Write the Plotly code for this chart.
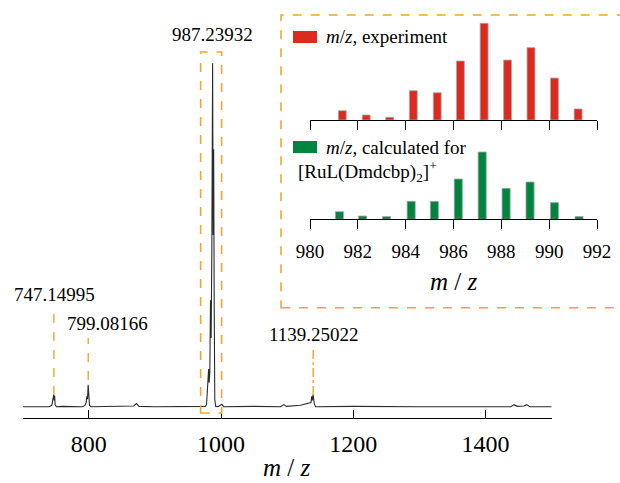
import plotly.graph_objects as go

W, H = 620, 483

# ---------------- data ----------------
spec_mz = [700, 720, 740, 744, 745, 746, 747, 747.6, 748.3, 749, 751, 760, 790, 794, 796, 797, 798, 799, 799.6, 800.3, 801, 803,
           830, 860, 868, 872, 876, 900, 940, 970, 976, 978, 980, 981.2, 982, 983, 984, 985, 986, 987.2, 988, 988.8, 989.6,
           990.5, 992, 996, 1001, 1004, 1050, 1090, 1095, 1099, 1120, 1134, 1136, 1137, 1138, 1139.2, 1140, 1141, 1143,
           1200, 1300, 1400, 1438, 1443, 1448, 1458, 1462, 1467, 1500]
spec_int = [0.0, 0.001, 0.0, 0.004, 0.015, 0.025, 0.035, 0.018, 0.032, 0.006, 0.0, 0.001, 0.0, 0.003, 0.012, 0.03, 0.022, 0.064, 0.04, 0.012, 0.004, 0.0,
            0.001, 0.0, 0.002, 0.009, 0.001, 0.0, 0.001, 0.0, 0.001, 0.006, 0.06, 0.11, 0.07, 0.1, 0.31, 0.2, 0.45, 1.0, 0.5, 0.75, 0.3,
            0.02, 0.0, 0.001, 0.007, 0.0, 0.001, 0.0, 0.006, 0.001, 0.004, 0.01, 0.012, 0.03, 0.018, 0.035, 0.02, 0.008, 0.0,
            0.001, 0.0, 0.001, 0.0, 0.006, 0.001, 0.002, 0.006, 0.0, 0.0]

exp_mz = [981.35, 982.35, 983.33, 984.32, 985.32, 986.29, 987.28, 988.26, 989.24, 990.22, 991.21]
exp_int = [9.6, 5.2, 2.8, 30.3, 28.2, 61.0, 100.0, 62.0, 74.8, 43.4, 11.4]

calc_mz = [981.23, 982.2, 983.2, 984.23, 985.2, 986.2, 987.2, 988.2, 989.2, 990.22, 991.25]
calc_int = [11.4, 4.9, 4.0, 26.7, 26.7, 59.9, 100.0, 46.0, 55.4, 24.8, 4.0]

main_ticks = [800, 1000, 1200, 1400]
inset_ticks = [980, 982, 984, 986, 988, 990, 992]

peak_labels = ["747.14995", "799.08166", "987.23932", "1139.25022"]

# ---------------- helpers (layout only) ----------------
def px(x):
    return x / W

def py(y):
    return 1 - y / H

FONT = "Times New Roman, Liberation Serif, serif"
ORANGE = "#f4a52a"
RED = "#dc2a1f"
GREEN = "#00843f"

fig = go.Figure()

fig.add_trace(go.Scatter(x=spec_mz, y=spec_int, mode="lines",
                         line=dict(color="#2b2b2b", width=1.1),
                         xaxis="x", yaxis="y", showlegend=False, hoverinfo="skip"))

fig.add_trace(go.Bar(x=exp_mz, y=exp_int, width=0.33,
                     marker=dict(color=RED, line=dict(color="#a8a8a8", width=0.8)),
                     xaxis="x2", yaxis="y2", showlegend=False))
fig.add_trace(go.Bar(x=calc_mz, y=calc_int, width=0.34,
                     marker=dict(color=GREEN, line=dict(color="#a8a8a8", width=0.8)),
                     xaxis="x3", yaxis="y3", showlegend=False))

# main axis geometry
x_l, x_r = 22.7, 551.7
y_axis_px, y_zero_px, y_top_px = 417.7, 406.7, 40
unit = 343.4
ybot = -(y_axis_px - y_zero_px) / unit
ytop = (y_zero_px - y_top_px) / unit

# inset geometry
ix_l, ix_r = 310, 597
top_axis_px, top_top_px = 120, 20
bot_axis_px, bot_top_px = 219.3, 140

def axis_style(size):
    return dict(showline=True, linecolor="black", linewidth=1.3, showgrid=False, zeroline=False,
                tickcolor="black", tickfont=dict(family=FONT, size=size, color="black"),
                automargin=False)

fig.update_layout(
    width=W, height=H, margin=dict(l=0, r=0, t=0, b=0, pad=0, autoexpand=False),
    paper_bgcolor="white", plot_bgcolor="rgba(0,0,0,0)",
    barmode="overlay",
    font=dict(family=FONT, color="black"),
    xaxis=dict(domain=[px(x_l), px(x_r)], range=[700, 1500], anchor="y",
               tickmode="array", tickvals=main_ticks, ticks="inside", ticklen=8, tickwidth=1.3,
               ticklabelstandoff=4, **axis_style(24)),
    yaxis=dict(domain=[py(y_axis_px), py(y_top_px)], range=[ybot, ytop], visible=False),
    xaxis2=dict(domain=[px(ix_l), px(ix_r)], range=[980, 992], anchor="y2",
                tickmode="array", tickvals=inset_ticks, ticks="outside", ticklen=9, tickwidth=1.3,
                showticklabels=False, **axis_style(19)),
    yaxis2=dict(domain=[py(top_axis_px), py(top_top_px)],
                range=[0, (top_axis_px - top_top_px) / 0.967], visible=False),
    xaxis3=dict(domain=[px(ix_l), px(ix_r)], range=[980, 992], anchor="y3",
                tickmode="array", tickvals=inset_ticks, ticks="outside", ticklen=9, tickwidth=1.3,
                showticklabels=True, ticklabelstandoff=6, **axis_style(19)),
    yaxis3=dict(domain=[py(bot_axis_px), py(bot_top_px)],
                range=[0, (bot_axis_px - bot_top_px) / 0.673], visible=False),
)

shapes = []
# inset dashed frame
shapes.append(dict(type="rect", xref="paper", yref="paper", x0=px(281), x1=px(640), y0=py(307.7), y1=py(15),
                   line=dict(color=ORANGE, width=1.6, dash="dash")))
# main peak dashed frame
shapes.append(dict(type="rect", xref="x", yref="paper", x0=969.1, x1=1000.8, y0=py(413), y1=py(52),
                   line=dict(color=ORANGE, width=1.6, dash="dash")))
# peak marker lines
for xm, ya, yb, dsh in [(747.15, 309, 395, "dash"), (799.08, 338, 380, "dash"), (1139.25, 349, 395, "dashdot")]:
    shapes.append(dict(type="line", xref="x", yref="paper", x0=xm, x1=xm, y0=py(yb), y1=py(ya),
                       line=dict(color=ORANGE, width=1.4, dash=dsh)))
# legend swatches
shapes.append(dict(type="rect", xref="paper", yref="paper", x0=px(293), x1=px(317), y0=py(43), y1=py(31),
                   fillcolor=RED, line=dict(width=0)))
shapes.append(dict(type="rect", xref="paper", yref="paper", x0=px(293), x1=px(317), y0=py(153), y1=py(141),
                   fillcolor=GREEN, line=dict(width=0)))
fig.update_layout(shapes=shapes)

ann = []
def text(x, y, s, size, xanchor="center"):
    ann.append(dict(x=px(x), y=py(y), xref="paper", yref="paper", text=s, showarrow=False,
                    xanchor=xanchor, yanchor="middle", font=dict(family=FONT, size=size, color="black")))

text(54, 294, peak_labels[0], 19)
text(107, 323, peak_labels[1], 19)
text(212, 34, peak_labels[2], 19)
text(314, 334, peak_labels[3], 19)

text(287, 467, "<i>m</i> / <i>z</i>", 25)
text(453.5, 281, "<i>m</i> / <i>z</i>", 25)

text(324, 37, "<i>m</i>/<i>z</i>, experiment", 19, "left")
text(324, 147, "<i>m</i>/<i>z</i>, calculated for", 19, "left")
text(296, 171, "[RuL(Dmdcbp)<sub>2</sub>]<sup>+</sup>", 19, "left")

fig.update_layout(annotations=ann)

fig.write_html("out.html", config={"displayModeBar": False},
               post_script="document.body.style.margin='0';document.body.style.overflow='hidden';")
